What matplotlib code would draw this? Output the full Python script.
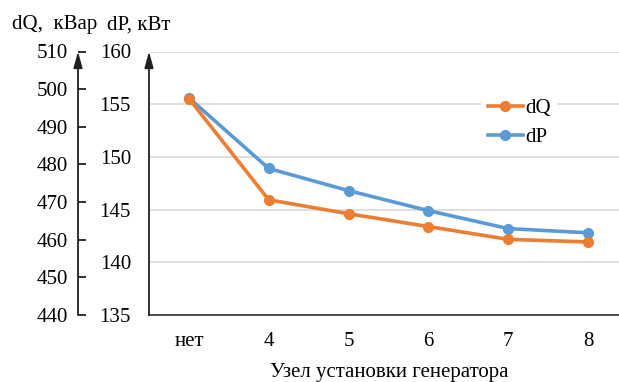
import matplotlib
matplotlib.use("Agg")
import matplotlib.pyplot as plt

categories = ["нет", "4", "5", "6", "7", "8"]
dQ = [497.5, 470.6, 466.9, 463.5, 460.1, 459.4]
dP = [155.6, 148.9, 146.8, 144.9, 143.2, 142.8]
dP_ticks = [135, 140, 145, 150, 155, 160]
dQ_ticks = [440, 450, 460, 470, 480, 490, 500, 510]

plt.rcParams['font.family'] = ['Liberation Serif', 'DejaVu Serif']
FS = 15
W, H = 619, 382
fig = plt.figure(figsize=(W / 100, H / 100), dpi=100)

left_px, bottom_px, top_px, right_px = 149, 315, 51.5, 619
ax = fig.add_axes([left_px / W, (H - bottom_px) / H,
                   (right_px - left_px) / W, (bottom_px - top_px) / H])
ax2 = ax.twinx()

x = list(range(len(categories)))
orange = "#ED7D31"
blue = "#5B9BD5"

ax.set_ylim(135, 160)
ax.set_yticks(dP_ticks)
ax.set_xlim(-0.5, (right_px - 189) / 79.8)
ax.set_xticks(x)
ax.set_xticklabels(categories, fontsize=FS)
ax.tick_params(axis='x', length=0, pad=12)
ax.tick_params(axis='y', length=0, pad=13, labelsize=FS)
ax.grid(axis='y', color='#D9D9D9', linewidth=1.2)
ax.set_axisbelow(True)
for s in ['top', 'right', 'left']:
    ax.spines[s].set_visible(False)
ax.spines['bottom'].set_color('#404040')
ax.spines['bottom'].set_linewidth(1.3)

ax2.set_ylim(440, 510)
ax2.set_yticks(dQ_ticks)
ax2.yaxis.set_ticks_position('left')
ax2.yaxis.set_label_position('left')
ax2.spines['left'].set_position(('outward', 71 * 72 / 100))
for s in ['top', 'right', 'bottom', 'left']:
    ax2.spines[s].set_visible(False)
ax2.tick_params(axis='y', direction='in', length=5.5, width=1.3, color='#202020',
                pad=7, labelsize=FS)

arrow = dict(arrowstyle='-|>,head_length=0.8,head_width=0.22', color='#202020',
             lw=1.3, mutation_scale=12, shrinkA=0, shrinkB=0)
ax.annotate('', xy=(0, 1.0), xycoords='axes fraction', xytext=(0, 0),
            textcoords='axes fraction', arrowprops=arrow)
dq_x = (78 - left_px) / (right_px - left_px)
ax.annotate('', xy=(dq_x, 1.0), xycoords='axes fraction', xytext=(dq_x, 0),
            textcoords='axes fraction', arrowprops=arrow, annotation_clip=False)

lq, = ax2.plot(x, dQ, color=orange, lw=2.6, marker='o', ms=7, zorder=3)
lp, = ax.plot(x, dP, color=blue, lw=2.6, marker='o', ms=7, zorder=3)

leg = ax2.legend([lq, lp], ['dQ', 'dP'], loc='upper left',
                 bbox_to_anchor=((471 - left_px) / (right_px - left_px), 0.885),
                 frameon=True, fontsize=FS, handlelength=1.7, handletextpad=0.1,
                 labelspacing=0.45, borderpad=0.3)
leg.get_frame().set_edgecolor('none')
leg.get_frame().set_facecolor('white')
leg.get_frame().set_alpha(1)

fig.text(12 / W, 1 - 25 / H, 'dQ,  кВар', fontsize=FS, va='center', ha='left')
fig.text(107 / W, 1 - 25 / H, 'dP, кВт', fontsize=FS, va='center', ha='left')
fig.text(389 / W, 1 - 372 / H, 'Узел установки генератора', fontsize=FS,
         va='center', ha='center')

fig.savefig('out.png', dpi=100)
